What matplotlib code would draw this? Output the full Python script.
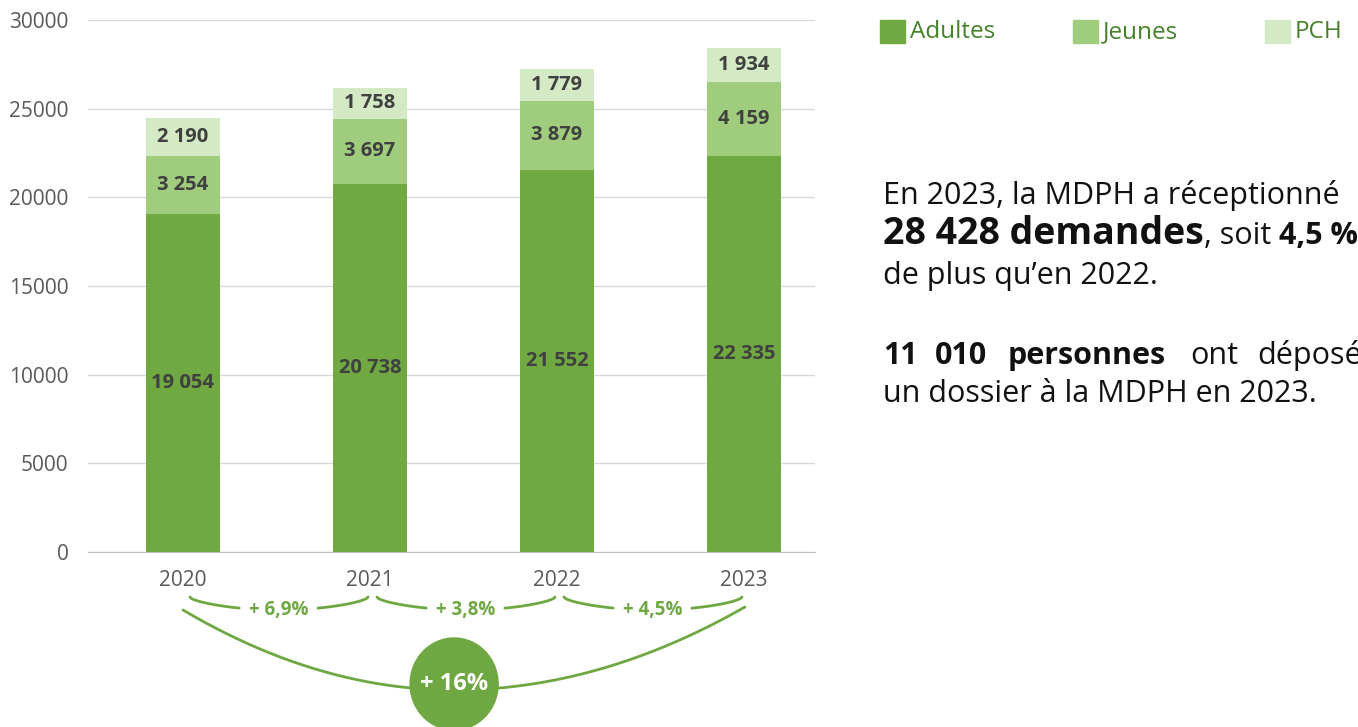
import matplotlib.pyplot as plt
import numpy as np
from matplotlib.patches import Rectangle, Ellipse

plt.rcParams['font.family'] = ['Open Sans', 'DejaVu Sans']

# Data
years = ["2020", "2021", "2022", "2023"]
adultes = [19054, 20738, 21552, 22335]
jeunes = [3254, 3697, 3879, 4159]
pch = [2190, 1758, 1779, 1934]
growth_labels = ["+ 6,9%", "+ 3,8%", "+ 4,5%"]
total_growth = "+ 16%"

series_names = ["Adultes", "Jeunes", "PCH"]
colors = ["#70a842", "#a0cd7d", "#d3eac5"]
label_color = "#404040"
green = "#6fa843"

W, H = 1358, 727
fig = plt.figure(figsize=(W / 100, H / 100), dpi=100)
ax = fig.add_axes([88 / W, 1 - 552 / H, (815 - 88) / W, (552 - 20) / H])

x = np.arange(len(years))
width = 0.40
bottom = np.zeros(len(years))
for vals, col in zip([adultes, jeunes, pch], colors):
    vals = np.array(vals)
    ax.bar(x, vals, width, bottom=bottom, color=col, linewidth=0, zorder=3)
    for xi, b, v in zip(x, bottom, vals):
        ax.text(xi, b + v / 2, f"{v:,}".replace(",", " "), ha="center", va="center",
                fontsize=14.5, fontweight="bold", color=label_color, zorder=4)
    bottom += vals

ax.set_xlim(-0.508, 3.38)
ax.set_ylim(0, 30000)
ax.set_yticks(range(0, 30001, 5000))
ax.set_xticks(x)
ax.set_xticklabels(years)
ax.tick_params(axis="y", length=0, pad=14, labelsize=15, labelcolor="#595959")
ax.tick_params(axis="x", length=0, pad=13, labelsize=15, labelcolor="#595959")
ax.grid(axis="y", color="#d9d9d9", linewidth=1, zorder=0)
for s in ["top", "right", "left"]:
    ax.spines[s].set_visible(False)
ax.spines["bottom"].set_color("#bfbfbf")

# overlay in pixel coordinates for legend / arcs / text
ov = fig.add_axes([0, 0, 1, 1], zorder=5)
ov.set_xlim(0, W)
ov.set_ylim(H, 0)
ov.axis("off")
ov.patch.set_alpha(0)

# category positions in pixels
px = [ax.transData.transform((xi, 0))[0] for xi in x]

# legend
for k, (name, col) in enumerate(zip(series_names, colors)):
    lx = 880 + k * 192.5
    ov.add_patch(Rectangle((lx, 20), 25, 23, color=col))
    ov.text(lx + 30, 32, name, fontsize=17.5, color="#45802a", va="center", ha="left")

# small arcs between consecutive years
for i, lab in enumerate(growth_labels):
    x0, x1 = px[i] + 7, px[i + 1] - 2
    mid = (px[i] + px[i + 1]) / 2 + 2
    xs = np.linspace(x0, x1, 200)
    t = (xs - x0) / (x1 - x0)
    ys = 597 + 13 * np.sin(np.pi * t) ** 0.6
    left = xs < mid - 39
    right = xs > mid + 39
    ov.plot(xs[left], ys[left], color=green, lw=2, solid_capstyle="round")
    ov.plot(xs[right], ys[right], color=green, lw=2, solid_capstyle="round")
    ov.text(mid, 610, lab, ha="center", va="center", fontsize=13.5, fontweight="bold", color=green)

# big arc 2020 -> 2023
cx = px[1] + 0.45 * (px[2] - px[1])
xl = np.linspace(px[0], cx, 200)
yl = 690 - 80 * ((cx - xl) / (cx - px[0])) ** 2
xr = np.linspace(cx, px[3] + 1, 200)
yr = 690 - 83 * ((xr - cx) / (px[3] + 1 - cx)) ** 2
ov.plot(xl, yl, color=green, lw=2, solid_capstyle="round")
ov.plot(xr, yr, color=green, lw=2, solid_capstyle="round")
ov.add_patch(Ellipse((cx, 684), 88, 92, color="#6fa843", zorder=6))
ov.text(cx, 684, total_growth, ha="center", va="center", fontsize=17,
        fontweight="bold", color="white", zorder=7)

# right-hand text
tc = "#111111"
fs = 22
fig.canvas.draw()
r = fig.canvas.get_renderer()


def run(pieces, x0, y):
    xc = x0
    for s, size, bold in pieces:
        t = ov.text(xc, y, s, fontsize=size, fontweight="bold" if bold else "normal",
                    color=tc, va="baseline", ha="left")
        bb = t.get_window_extent(renderer=r)
        xc += bb.width


run([("En 2023, la MDPH a réceptionné", fs, False)], 883, 204)
run([("28 428 demandes", 27, True), (", soit ", fs, False), ("4,5 %", fs, True)], 883, 244)
run([("de plus qu’en 2022.", fs, False)], 883, 284)
for s, xw, b in [("11", 883, True), ("010", 935, True), ("personnes", 1008, True),
                 ("ont", 1190, False), ("déposé", 1257, False)]:
    ov.text(xw, 364, s, fontsize=fs, fontweight="bold" if b else "normal",
            color=tc, va="baseline", ha="left")
run([("un dossier à la MDPH en 2023.", fs, False)], 883, 402)

fig.savefig("out.png", dpi=100)
